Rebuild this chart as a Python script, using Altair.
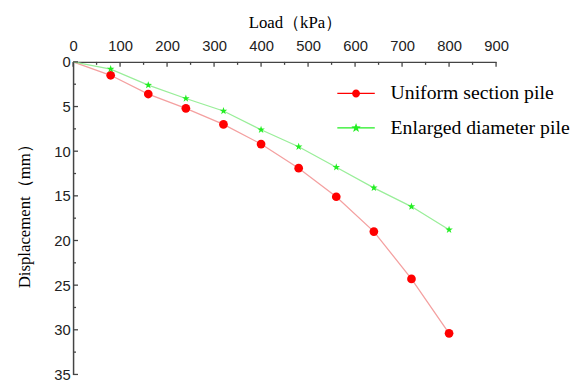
import altair as alt
import pandas as pd

# ---- data ----
loads = [0, 80, 160, 240, 320, 400, 480, 560, 640, 720, 800]
uniform_disp = [0, 1.5, 3.6, 5.2, 7.0, 9.2, 11.9, 15.1, 19.0, 24.3, 30.4]
enlarged_disp = [0, 0.8, 2.6, 4.1, 5.5, 7.6, 9.5, 11.8, 14.1, 16.2, 18.8]
series_names = ["Uniform section pile", "Enlarged diameter pile"]
x_major = [0, 100, 200, 300, 400, 500, 600, 700, 800, 900]
x_minor = [50, 150, 250, 350, 450, 550, 650, 750, 850]
y_major = [0, 5, 10, 15, 20, 25, 30, 35]
y_minor = [2.5, 7.5, 12.5, 17.5, 22.5, 27.5, 32.5]

rows = []
for l, u, e in zip(loads, uniform_disp, enlarged_disp):
    rows.append({"load": l, "disp": u, "series": series_names[0]})
    rows.append({"load": l, "disp": e, "series": series_names[1]})
df = pd.DataFrame(rows)

# ---- styles ----
RED, GREEN = "#ff0000", "#22ee22"
RED_LINE, GREEN_LINE = "#f4a0a0", "#99ee99"
STAR = ("M0,-1L0.235,-0.324L0.951,-0.309L0.380,0.124L0.588,0.809L0,0.4"
        "L-0.588,0.809L-0.380,0.124L-0.951,-0.309L-0.235,-0.324Z")
LEG_CIRCLE = ("M-1.9,-0.06H1.9V0.06H-1.9Z"
              "M-0.4,0A0.4,0.4,0,1,1,0.4,0A0.4,0.4,0,1,1,-0.4,0Z")
LEG_STAR = ("M-1.9,-0.06H1.9V0.06H-1.9Z"
            "M0,-0.5L0.1176,-0.1618L0.4755,-0.1545L0.1902,0.0618L0.294,0.4045"
            "L0,0.2L-0.294,0.4045L-0.1902,0.0618L-0.4755,-0.1545L-0.1176,-0.1618Z")

x_scale = alt.Scale(domain=[0, 900], nice=False)
y_scale = alt.Scale(domain=[0, 35], nice=False, reverse=True)

x_enc = alt.X("load:Q", scale=x_scale,
              axis=alt.Axis(orient="top", values=x_major, format="d", title="Load（kPa）",
                            labelFlush=False, labelOverlap=False, labelPadding=9,
                            titleX=225, titleY=-35, titleBaseline="alphabetic"))
y_enc = alt.Y("disp:Q", scale=y_scale,
              axis=alt.Axis(orient="left", values=y_major, format="d", title="Displacement（mm）",
                            labelFlush=False, labelOverlap=False, labelPadding=3,
                            titleX=-44, titleY=152, titleBaseline="alphabetic"))

base = alt.Chart(df).encode(x=x_enc, y=y_enc)

line_red = base.transform_filter(alt.datum.series == series_names[0]).mark_line(
    strokeWidth=1.3, color=RED_LINE)
line_green = base.transform_filter(alt.datum.series == series_names[1]).mark_line(
    strokeWidth=1.3, color=GREEN_LINE)

pts_red = base.transform_filter(
    (alt.datum.series == series_names[0]) & (alt.datum.load > 0)
).mark_point(filled=True, shape="circle", size=78, color=RED, opacity=1)

pts_green = base.transform_filter(
    (alt.datum.series == series_names[1]) & (alt.datum.load > 0)
).mark_point(filled=True, shape=STAR, size=64, color=GREEN, opacity=1)

leg_props = dict(title=None, orient="none", legendX=277, legendY=22, direction="vertical",
                 symbolSize=400, symbolStrokeWidth=0, symbolOpacity=1,
                 labelOffset=25, rowPadding=15, padding=0,
                 labelFont="Liberation Serif", labelFontSize=20, labelColor="#000000",
                 labelBaseline="middle", labelLimit=300)

legend_layer = base.mark_point(filled=True, opacity=0).encode(
    color=alt.Color("series:N", scale=alt.Scale(domain=series_names, range=[RED, GREEN]),
                    legend=alt.Legend(**leg_props)),
    shape=alt.Shape("series:N", scale=alt.Scale(domain=series_names, range=[LEG_CIRCLE, LEG_STAR]),
                    legend=alt.Legend(**leg_props)),
)

tick_df_xmaj = pd.DataFrame({"v": x_major})
tick_df_xmin = pd.DataFrame({"v": x_minor})
tick_df_ymaj = pd.DataFrame({"v": y_major})
tick_df_ymin = pd.DataFrame({"v": y_minor})

xt_maj = alt.Chart(tick_df_xmaj).mark_rule(color="#444444", strokeWidth=1.3).encode(
    x=alt.X("v:Q", scale=x_scale), y=alt.value(0), y2=alt.value(5))
xt_min = alt.Chart(tick_df_xmin).mark_rule(color="#444444", strokeWidth=1.3).encode(
    x=alt.X("v:Q", scale=x_scale), y=alt.value(0), y2=alt.value(3))
yt_maj = alt.Chart(tick_df_ymaj).mark_rule(color="#444444", strokeWidth=1.3).encode(
    y=alt.Y("v:Q", scale=y_scale), x=alt.value(0), x2=alt.value(5))
yt_min = alt.Chart(tick_df_ymin).mark_rule(color="#444444", strokeWidth=1.3).encode(
    y=alt.Y("v:Q", scale=y_scale), x=alt.value(0), x2=alt.value(3))

chart = alt.layer(
    line_red, line_green, legend_layer, pts_red, pts_green, xt_maj, xt_min, yt_maj, yt_min
).properties(
    width=429, height=317,
    autosize=alt.AutoSizeParams(type="none"),
    padding={"left": 66, "top": 52, "right": 76, "bottom": 5},
    background="#ffffff",
).configure_view(stroke=None).configure_axis(
    domainColor="#444444", domainWidth=1.5, ticks=False, grid=False,
    labelFont="Liberation Sans", labelFontSize=15, labelColor="#222222",
    titleFont="Liberation Serif", titleFontSize=17, titleFontWeight="normal", titleColor="#000000",
)

chart.save("out.html", embed_options={"renderer": "svg", "actions": False})
